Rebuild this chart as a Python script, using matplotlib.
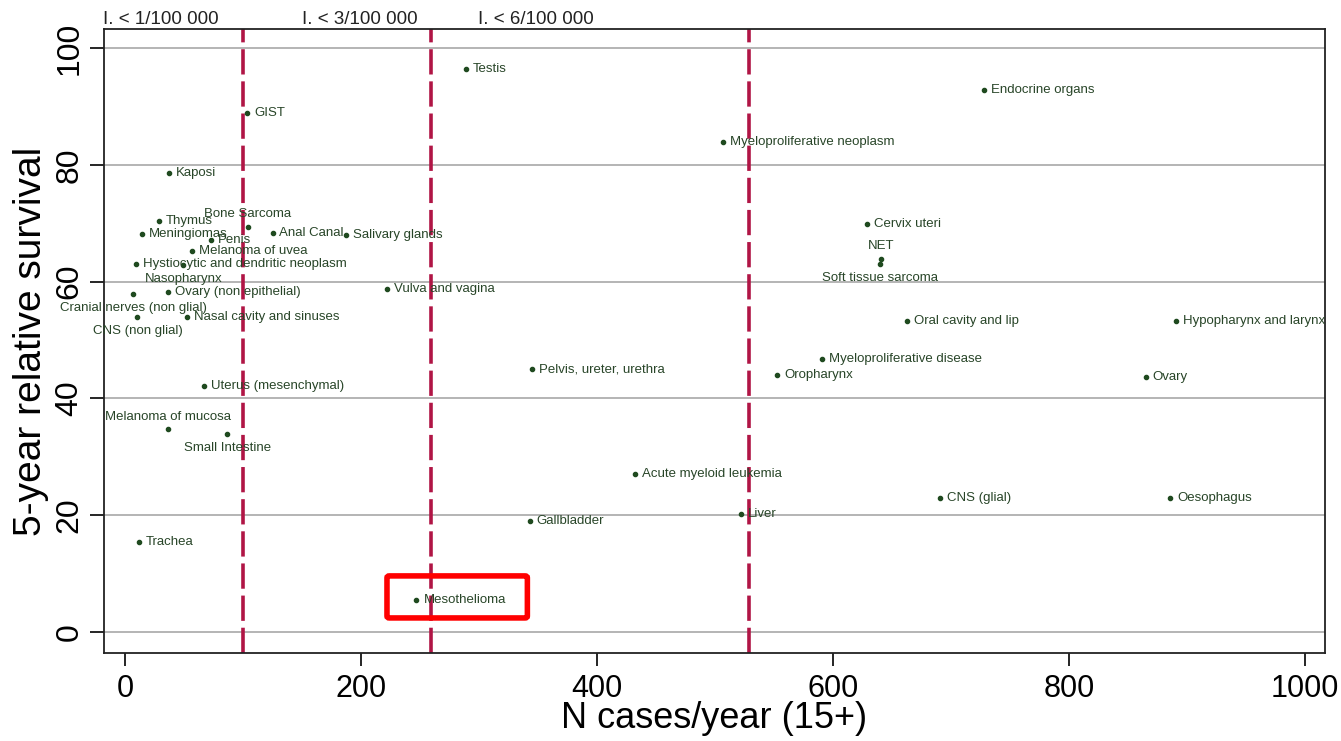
import matplotlib
matplotlib.use('Agg')
import matplotlib.pyplot as plt
from matplotlib.patches import FancyBboxPatch
import matplotlib.transforms as mtransforms

plt.rcParams['font.family'] = ['Liberation Sans', 'DejaVu Sans']

# site, cases per year, 5-year relative survival, label position
sites = ['Testis', 'GIST', 'Endocrine organs', 'Myeloproliferative neoplasm', 'Kaposi',
         'Thymus', 'Bone Sarcoma', 'Meningiomas', 'Penis', 'Anal Canal', 'Salivary glands',
         'Melanoma of uvea', 'Hystiocytic and dendritic neoplasm', 'Nasopharynx',
         'Cranial nerves (non glial)', 'Ovary (non epithelial)', 'CNS (non glial)',
         'Nasal cavity and sinuses', 'Uterus (mesenchymal)', 'Melanoma of mucosa',
         'Small Intestine', 'Trachea', 'Vulva and vagina', 'Pelvis, ureter, urethra',
         'Acute myeloid leukemia', 'Gallbladder', 'Mesothelioma', 'Liver', 'Cervix uteri',
         'NET', 'Soft tissue sarcoma', 'Oral cavity and lip', 'Myeloproliferative disease',
         'Oropharynx', 'Hypopharynx and larynx', 'Ovary', 'CNS (glial)', 'Oesophagus']
cases = [289, 103.5, 728, 507, 37,
         28.5, 104, 14.5, 73, 125, 187,
         57, 9, 49.5,
         7, 36.5, 10.5,
         52.5, 67, 36.5,
         86.5, 12, 222, 345,
         432, 343, 247, 522, 629,
         641, 640, 663, 591,
         553, 891, 865, 691, 886]
survival = [96.4, 88.9, 92.9, 84.0, 78.6,
            70.4, 69.4, 68.2, 67.1, 68.4, 68.0,
            65.3, 63.0, 62.8,
            57.9, 58.2, 53.9,
            54.0, 42.1, 34.7,
            33.9, 15.4, 58.7, 45.0,
            27.0, 19.0, 5.5, 20.2, 69.9,
            63.9, 63.1, 53.3, 46.7,
            44.0, 53.3, 43.7, 23.0, 23.0]
label_pos = ['r', 'r', 'r', 'r', 'r',
             'r', 't', 'r', 'r', 'r', 'r',
             'r', 'r', 'b',
             'b', 'r', 'b',
             'r', 'r', 't',
             'b', 'r', 'r', 'r',
             'r', 'r', 'r', 'r', 'r',
             't', 'b', 'r', 'r',
             'r', 'r', 'r', 'r', 'r']

thresholds = [100, 259, 529]
threshold_labels = ['I. < 1/100 000', 'I. < 3/100 000', 'I. < 6/100 000']
threshold_label_x = [-18.6, 150, 299]

green = '#1f4a1f'
txt_green = '#284528'

fig = plt.figure(figsize=(13.41, 7.41), dpi=100)
ax = fig.add_axes([0.0776, 0.1188, 0.9104, 0.8421])

ax.set_xlim(-17.8, 1017)
ax.set_ylim(-3.6, 103.3)

for yv in range(0, 101, 20):
    ax.axhline(yv, color='#a8a8a8', lw=1.2, zorder=1)

for xv in thresholds:
    ax.axvline(xv, color='#b01545', lw=2.6, dashes=(7, 1.9), zorder=2)

ax.scatter(cases, survival, s=9, color=green, zorder=4)

for name, xv, yv, pos in zip(sites, cases, survival, label_pos):
    if pos == 'r':
        ax.annotate(name, (xv, yv), xytext=(5, 0), textcoords='offset points',
                    ha='left', va='center', fontsize=9.5, color=txt_green, zorder=5)
    elif pos == 't':
        ax.annotate(name, (xv, yv), xytext=(0, 9), textcoords='offset points',
                    ha='center', va='center', fontsize=9.5, color=txt_green, zorder=5)
    else:
        ax.annotate(name, (xv, yv), xytext=(0, -10), textcoords='offset points',
                    ha='center', va='center', fontsize=9.5, color=txt_green, zorder=5)

trans = mtransforms.blended_transform_factory(ax.transData, ax.transAxes)
for lab, lx in zip(threshold_labels, threshold_label_x):
    ax.text(lx, 1.015, lab, transform=trans, ha='left', va='center',
            fontsize=13.5, color='#222222', clip_on=False)

# highlight box around mesothelioma
box = FancyBboxPatch((222, 2.4), 119, 7.2, boxstyle='round,pad=0,rounding_size=2',
                     fill=False, edgecolor='#ff0000', lw=4, zorder=6,
                     mutation_aspect=1 / 6)
ax.add_patch(box)

ax.set_xticks([0, 200, 400, 600, 800, 1000])
ax.set_yticks([0, 20, 40, 60, 80, 100])
ax.tick_params(axis='x', labelsize=22, length=9, width=1.2, pad=6)
ax.tick_params(axis='y', labelsize=23, length=10, width=1.2, pad=4)
for t in ax.get_yticklabels():
    t.set_rotation(90)
    t.set_va('center')

for sp in ax.spines.values():
    sp.set_linewidth(1.3)
    sp.set_color('#222222')

ax.set_xlabel('N cases/year (15+)', fontsize=26, labelpad=-2)
ax.set_ylabel('5-year relative survival', fontsize=28, labelpad=4)

fig.savefig('out.png', dpi=100)
